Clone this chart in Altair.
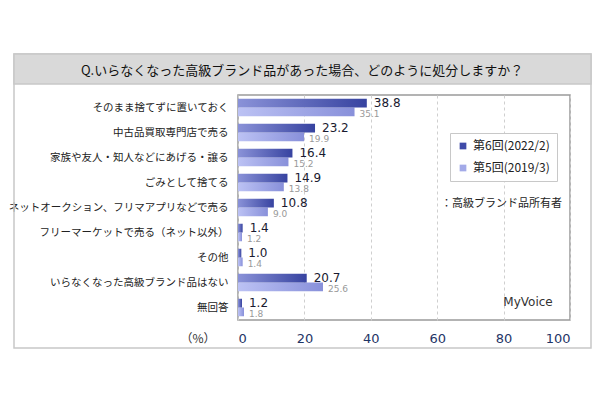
import altair as alt
import pandas as pd

categories = [
    "そのまま捨てずに置いておく",
    "中古品買取専門店で売る",
    "家族や友人・知人などにあげる・譲る",
    "ごみとして捨てる",
    "ネットオークション、フリマアプリなどで売る",
    "フリーマーケットで売る（ネット以外）",
    "その他",
    "いらなくなった高級ブランド品はない",
    "無回答",
]
series_names = ["第6回(2022/2)", "第5回(2019/3)"]
values_6 = [38.8, 23.2, 16.4, 14.9, 10.8, 1.4, 1.0, 20.7, 1.2]
values_5 = [35.1, 19.9, 15.2, 13.8, 9.0, 1.2, 1.4, 25.6, 1.8]
x_ticks = [0, 20, 40, 60, 80, 100]
title_text = "Q.いらなくなった高級ブランド品があった場合、どのように処分しますか？"
note_text = "：高級ブランド品所有者"

rows = []
for c, a, b in zip(categories, values_6, values_5):
    rows.append({"category": c, "series": series_names[0], "value": a, "label": f"{a:.1f}"})
    rows.append({"category": c, "series": series_names[1], "value": b, "label": f"{b:.1f}"})
df = pd.DataFrame(rows)

JP = "Noto Sans CJK JP"
NUM = "DejaVu Sans"
W, H = 332, 225

grad6 = {"gradient": "linear", "x1": 0, "y1": 0, "x2": 1, "y2": 0,
         "stops": [{"offset": 0, "color": "#8a92d8"}, {"offset": 1, "color": "#3743a0"}]}
grad5 = {"gradient": "linear", "x1": 0, "y1": 0, "x2": 1, "y2": 0,
         "stops": [{"offset": 0, "color": "#bcc2f4"}, {"offset": 1, "color": "#8890da"}]}

xenc = alt.X("value:Q", scale=alt.Scale(domain=[0, 100], nice=False),
             axis=alt.Axis(values=x_ticks, title=None, grid=True, gridDash=[3, 3],
                           gridColor="#cfcfcf", ticks=False, domain=False,
                           labelPadding=12, labelFont=NUM, labelFontSize=13,
                           labelColor="#1f3566", format="d"))
yenc = alt.Y("category:N", sort=categories,
             scale=alt.Scale(paddingInner=0.3, paddingOuter=0.15),
             axis=alt.Axis(title=None, ticks=False, domain=False, labelPadding=10,
                           labelFont=JP, labelFontSize=10.5, labelColor="#222222",
                           labelLimit=300))
yoff = alt.YOffset("series:N", scale=alt.Scale(domain=series_names, paddingInner=0, paddingOuter=0))

base = alt.Chart(df)

bars6 = base.transform_filter(alt.datum.series == series_names[0]).mark_bar(
    color=grad6).encode(x=xenc, y=yenc, yOffset=yoff)
bars5 = base.transform_filter(alt.datum.series == series_names[1]).mark_bar(
    color=grad5).encode(x=xenc, y=yenc, yOffset=yoff)

text6 = base.transform_filter(alt.datum.series == series_names[0]).mark_text(
    align="left", baseline="middle", dx=7, dy=0, font=NUM, fontSize=12, color="#1a1a30"
).encode(x="value:Q", y=alt.Y("category:N", sort=categories), yOffset=yoff, text="label:N")
text5 = base.transform_filter(alt.datum.series == series_names[1]).mark_text(
    align="left", baseline="middle", dx=5, dy=2, font=NUM, fontSize=9, color="#999999"
).encode(x="value:Q", y=alt.Y("category:N", sort=categories), yOffset=yoff, text="label:N")

legend_layer = base.mark_square(opacity=0, size=1).encode(
    x="value:Q", y=alt.Y("category:N", sort=categories),
    color=alt.Color("series:N", scale=alt.Scale(domain=series_names, range=["#3f4aa8", "#a3aae8"]),
                    legend=alt.Legend(title=None, orient="none", legendX=212, legendY=38,
                                      padding=7, strokeColor="#c8c8c8", fillColor="#ffffff",
                                      symbolOpacity=1, symbolSize=45, symbolType="square",
                                      labelFont=JP, labelFontSize=12, labelColor="#222222",
                                      rowPadding=10, symbolOffset=0, labelOffset=4)))

one = pd.DataFrame({"k": [0]})
frame = alt.Chart(one).mark_rect(filled=False, stroke="#c8c8c8", strokeWidth=1.5).encode(
    x=alt.value(-224), x2=alt.value(353), y=alt.value(-41), y2=alt.value(253))
title_bg = alt.Chart(one).mark_rect(fill="#d9d9d9", stroke="#c8c8c8", strokeWidth=1.5).encode(
    x=alt.value(-224), x2=alt.value(353), y=alt.value(-41), y2=alt.value(-11))
title = alt.Chart(one).mark_text(text=title_text, font=JP, fontSize=13, color="#111111",
                                 align="center", baseline="middle").encode(
    x=alt.value(64), y=alt.value(-24))
pct = alt.Chart(one).mark_text(text="（%）", font=JP, fontSize=12, color="#333333",
                               align="center", baseline="middle").encode(
    x=alt.value(-40), y=alt.value(244))
note = alt.Chart(one).mark_text(text=note_text, font=JP, fontSize=11, color="#222222",
                                align="left", baseline="middle").encode(
    x=alt.value(203), y=alt.value(109))
logo = alt.Chart(one).mark_text(text="MyVoice", font="DejaVu Sans", fontSize=12, color="#333333",
                                align="center", baseline="middle").encode(
    x=alt.value(290), y=alt.value(207))

chart = alt.layer(frame, title_bg, title, pct, bars5, bars6, text6, text5, legend_layer, note, logo).properties(
    width=W, height=H,
    autosize=alt.AutoSizeParams(type="none"),
    padding={"left": 230, "top": 87, "right": 22, "bottom": 71},
).configure_view(stroke="#9a9a9a", strokeWidth=1.5)

chart.save("out.html", embed_options={"renderer": "svg", "actions": False})
